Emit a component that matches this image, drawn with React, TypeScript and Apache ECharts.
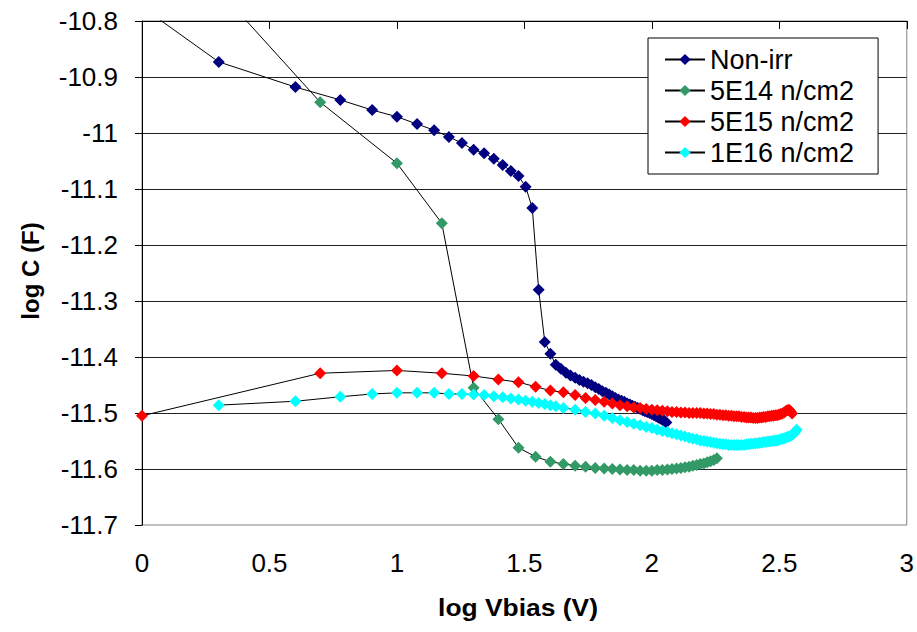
import React, { useEffect, useRef } from "react";
import * as echarts from "echarts";

// ---- data: [log Vbias (V), log C (F)] ----
const seriesNames = ["Non-irr", "5E14 n/cm2", "5E15 n/cm2", "1E16 n/cm2"];
const markerColors = ["#000080", "#339966", "#FF0000", "#00FFFF"];

const nonIrr = [
  [0, -10.775], [0.301, -10.873], [0.602, -10.918], [0.778, -10.941], [0.903, -10.959],
  [1.0, -10.971], [1.079, -10.984], [1.146, -10.995], [1.204, -11.007], [1.255, -11.018],
  [1.301, -11.03], [1.342, -11.036], [1.38, -11.046], [1.415, -11.057], [1.447, -11.068],
  [1.477, -11.077], [1.505, -11.096], [1.531, -11.134], [1.556, -11.28], [1.58, -11.373],
  [1.602, -11.394], [1.623, -11.414], [1.643, -11.421], [1.663, -11.428], [1.681, -11.433],
  [1.699, -11.437], [1.716, -11.441], [1.732, -11.444], [1.748, -11.447], [1.763, -11.45],
  [1.778, -11.454], [1.792, -11.457], [1.806, -11.461], [1.82, -11.464], [1.833, -11.467],
  [1.845, -11.47], [1.857, -11.473], [1.869, -11.476], [1.881, -11.478], [1.892, -11.48],
  [1.903, -11.483], [1.914, -11.485], [1.924, -11.487], [1.934, -11.489], [1.944, -11.491],
  [1.954, -11.493], [1.964, -11.495], [1.973, -11.497], [1.982, -11.498], [1.991, -11.5],
  [2.0, -11.502], [2.009, -11.504], [2.017, -11.506], [2.025, -11.508], [2.033, -11.51],
  [2.041, -11.512], [2.049, -11.514], [2.057, -11.517],
];

const fluence5e14 = [
  [0, -10.594], [0.699, -10.945], [1.0, -11.054], [1.176, -11.161], [1.301, -11.455],
  [1.398, -11.511], [1.477, -11.562], [1.544, -11.578], [1.602, -11.587], [1.653, -11.591],
  [1.699, -11.594], [1.74, -11.596], [1.778, -11.598], [1.813, -11.599], [1.845, -11.6],
  [1.875, -11.601], [1.903, -11.602], [1.929, -11.602], [1.954, -11.603], [1.978, -11.603],
  [2.0, -11.603], [2.021, -11.602], [2.041, -11.602], [2.061, -11.601], [2.079, -11.6],
  [2.097, -11.599], [2.114, -11.598], [2.13, -11.597], [2.146, -11.596], [2.161, -11.594],
  [2.176, -11.593], [2.19, -11.591], [2.204, -11.59], [2.217, -11.588], [2.23, -11.586],
  [2.243, -11.584], [2.255, -11.581],
];

const fluence5e15 = [
  [0, -11.505], [0.699, -11.429], [1.0, -11.424], [1.176, -11.429], [1.301, -11.434],
  [1.398, -11.44], [1.477, -11.445], [1.544, -11.453], [1.602, -11.46], [1.653, -11.463],
  [1.699, -11.468], [1.74, -11.473], [1.778, -11.477], [1.813, -11.48], [1.845, -11.483],
  [1.875, -11.486], [1.903, -11.488], [1.929, -11.49], [1.954, -11.491], [1.978, -11.493],
  [2.0, -11.494], [2.021, -11.495], [2.041, -11.496], [2.061, -11.497], [2.079, -11.498],
  [2.097, -11.498], [2.114, -11.499], [2.13, -11.499], [2.146, -11.5], [2.161, -11.5],
  [2.176, -11.5], [2.19, -11.5], [2.204, -11.501], [2.217, -11.501], [2.23, -11.502],
  [2.243, -11.502], [2.255, -11.503], [2.267, -11.503], [2.279, -11.504], [2.29, -11.504],
  [2.301, -11.505], [2.312, -11.505], [2.322, -11.506], [2.332, -11.506], [2.342, -11.506],
  [2.352, -11.507], [2.362, -11.507], [2.371, -11.508], [2.38, -11.508], [2.389, -11.508],
  [2.398, -11.509], [2.407, -11.509], [2.415, -11.509], [2.423, -11.508], [2.431, -11.508],
  [2.439, -11.507], [2.447, -11.507], [2.455, -11.506], [2.462, -11.506], [2.47, -11.505],
  [2.477, -11.505], [2.484, -11.504], [2.491, -11.504], [2.498, -11.503], [2.505, -11.502],
  [2.512, -11.501], [2.519, -11.499], [2.525, -11.497], [2.531, -11.495], [2.538, -11.494],
  [2.544, -11.497], [2.55, -11.501],
];

const fluence1e16 = [
  [0.301, -11.486], [0.602, -11.479], [0.778, -11.471], [0.903, -11.466], [1.0, -11.464],
  [1.079, -11.464], [1.146, -11.464], [1.204, -11.466], [1.255, -11.466], [1.301, -11.467],
  [1.342, -11.468], [1.38, -11.47], [1.415, -11.472], [1.447, -11.474], [1.477, -11.476],
  [1.505, -11.478], [1.531, -11.48], [1.556, -11.482], [1.58, -11.484], [1.602, -11.486],
  [1.623, -11.488], [1.653, -11.491], [1.699, -11.494], [1.74, -11.498], [1.778, -11.501],
  [1.813, -11.505], [1.845, -11.509], [1.875, -11.513], [1.903, -11.516], [1.929, -11.519],
  [1.954, -11.522], [1.978, -11.525], [2.0, -11.527], [2.021, -11.53], [2.041, -11.532],
  [2.061, -11.534], [2.079, -11.536], [2.097, -11.538], [2.114, -11.54], [2.13, -11.542],
  [2.146, -11.544], [2.161, -11.546], [2.176, -11.547], [2.19, -11.549], [2.204, -11.55],
  [2.217, -11.551], [2.23, -11.552], [2.243, -11.553], [2.255, -11.554], [2.267, -11.555],
  [2.279, -11.556], [2.29, -11.556], [2.301, -11.557], [2.312, -11.557], [2.322, -11.557],
  [2.332, -11.557], [2.342, -11.557], [2.352, -11.557], [2.362, -11.557], [2.371, -11.556],
  [2.38, -11.556], [2.389, -11.555], [2.398, -11.555], [2.407, -11.554], [2.415, -11.554],
  [2.423, -11.553], [2.431, -11.553], [2.439, -11.552], [2.447, -11.552], [2.455, -11.551],
  [2.462, -11.551], [2.47, -11.55], [2.477, -11.55], [2.484, -11.549], [2.491, -11.549],
  [2.498, -11.548], [2.505, -11.547], [2.512, -11.546], [2.519, -11.545], [2.525, -11.544],
  [2.531, -11.543], [2.538, -11.542], [2.544, -11.541], [2.55, -11.539], [2.556, -11.537],
  [2.562, -11.534], [2.568, -11.53],
];

const allSeries = [nonIrr, fluence5e14, fluence5e15, fluence1e16];

const xRange = { min: 0, max: 3, interval: 0.5 };
const yRange = { min: -11.7, max: -10.8, interval: 0.1 };
const xTitle = "log Vbias (V)";
const yTitle = "log C (F)";

const FONT = "'Liberation Sans', Arial, Helvetica, sans-serif";

export default function App() {
  const ref = useRef<HTMLDivElement>(null);

  useEffect(() => {
    if (!ref.current) return;
    const chart = echarts.init(ref.current, null, { renderer: "svg" });

    const series = allSeries.map((data, i) => ({
      name: seriesNames[i],
      type: "line",
      data,
      xAxisIndex: 0,
      yAxisIndex: 0,
      symbol: "diamond",
      symbolSize: 12,
      showSymbol: true,
      showAllSymbol: true,
      clip: true,
      lineStyle: { color: "#000", width: 1 },
      itemStyle: { color: markerColors[i] },
      emphasis: { disabled: true },
      z: 3 + i,
    }));

    chart.setOption({
      animation: false,
      backgroundColor: "#fff",
      grid: {
        left: 142,
        top: 21,
        right: 10,
        bottom: 107,
        show: true,
        borderColor: "#808080",
        borderWidth: 1,
        backgroundColor: "transparent",
      },
      xAxis: [
        {
          type: "value",
          position: "bottom",
          min: xRange.min,
          max: xRange.max,
          interval: xRange.interval,
          axisLine: { show: false, onZero: false },
          axisTick: { show: false },
          splitLine: { show: false },
          axisLabel: {
            fontSize: 26,
            color: "#000",
            fontFamily: FONT,
            margin: 25,
            showMinLabel: true,
            showMaxLabel: true,
          },
        },
        {
          type: "value",
          position: "top",
          min: xRange.min,
          max: xRange.max,
          interval: xRange.interval,
          axisLine: { show: true, onZero: false, lineStyle: { color: "#000", width: 1 } },
          axisTick: { show: true, inside: true, length: 8, lineStyle: { color: "#000" } },
          axisLabel: { show: false },
          splitLine: { show: false },
        },
      ],
      yAxis: {
        type: "value",
        min: yRange.min,
        max: yRange.max,
        interval: yRange.interval,
        axisLine: { show: true, onZero: false, lineStyle: { color: "#000", width: 1 } },
        axisTick: { show: true, length: 7, lineStyle: { color: "#000" } },
        axisLabel: { fontSize: 26, color: "#000", fontFamily: FONT, margin: 24 },
        splitLine: {
          show: true,
          showMinLine: false,
          lineStyle: { color: "#222", width: 1 },
        },
      },
      legend: {
        show: true,
        orient: "vertical",
        left: 648,
        top: 38,
        itemWidth: 40,
        itemHeight: 14,
        itemGap: 4,
        padding: [8, 24, 8, 16],
        borderColor: "#000",
        borderWidth: 1,
        borderRadius: 0,
        backgroundColor: "#fff",
        selectedMode: false,
        textStyle: { fontSize: 27, color: "#000", fontFamily: FONT },
        data: seriesNames,
      },
      graphic: [
        {
          type: "text",
          x: 518,
          y: 607,
          scaleX: 1.1,
          style: {
            text: xTitle,
            font: `bold 24px ${FONT}`,
            fill: "#000",
            textAlign: "center",
            textVerticalAlign: "middle",
          },
        },
        {
          type: "text",
          x: 30,
          y: 271,
          rotation: Math.PI / 2,
          style: {
            text: yTitle,
            font: `bold 24px ${FONT}`,
            fill: "#000",
            textAlign: "center",
            textVerticalAlign: "middle",
          },
        },
      ],
      series,
    });

    return () => chart.dispose();
  }, []);

  return (
    <div
      ref={ref}
      style={{ position: "fixed", left: 0, top: 0, width: 917, height: 632, background: "#fff" }}
    />
  );
}
